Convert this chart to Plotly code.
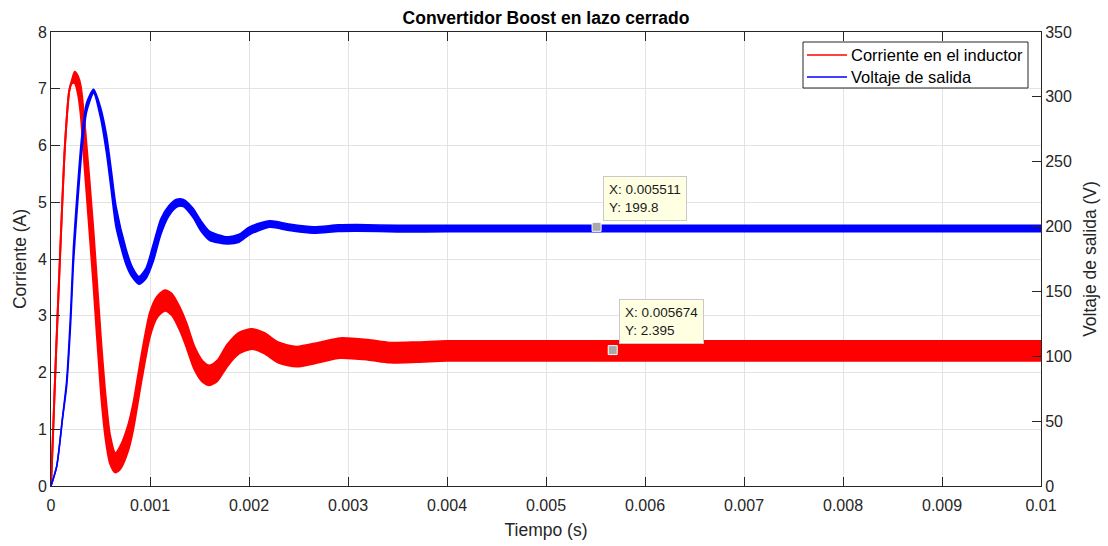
import plotly.graph_objects as go

# ---------------- data ----------------
# Inductor current (A): time, centre of the ripple band, band height
t_i = [0, 0.00002, 0.00005, 0.000091, 0.000141, 0.000185, 0.00021, 0.00024,
       0.00027, 0.0003, 0.00034, 0.000428, 0.000505, 0.000552, 0.000596, 0.00065,
       0.0007, 0.00078, 0.00083, 0.000916, 0.001, 0.00107, 0.00115, 0.00122,
       0.0013, 0.00137, 0.00145, 0.00153, 0.0016, 0.00168, 0.00178, 0.0019,
       0.00203, 0.00215, 0.0023, 0.00248, 0.0027, 0.00292, 0.0032, 0.00342,
       0.0037, 0.004, 0.0045, 0.005, 0.006, 0.007, 0.008, 0.009, 0.01]
i_center = [0, 0.9, 2.3, 4.04, 6.0, 6.97, 7.12, 7.2,
            7.08, 6.8, 6.0, 4.04, 2.1, 1.2, 0.65, 0.41,
            0.5, 0.85, 1.22, 2.1, 2.85, 3.15, 3.27, 3.2,
            2.95, 2.65, 2.25, 2.02, 1.95, 2.03, 2.3, 2.52,
            2.59, 2.52, 2.35, 2.28, 2.35, 2.43, 2.4, 2.35,
            2.36, 2.38, 2.38, 2.38, 2.38, 2.38, 2.38, 2.38, 2.38]
i_ripple = [0, 0, 0, 0, 0, 0, 0.05, 0.2,
            0.3, 0.5, 0.8, 0.95, 0.95, 0.75, 0.5, 0.34,
            0.4, 0.45, 0.45, 0.45, 0.42, 0.37, 0.36, 0.38,
            0.4, 0.42, 0.4, 0.37, 0.35, 0.36, 0.38, 0.37,
            0.35, 0.36, 0.36, 0.35, 0.35, 0.35, 0.35, 0.35,
            0.35, 0.35, 0.35, 0.35, 0.35, 0.35, 0.35, 0.35, 0.35]

# Output voltage (V): time, centre of the ripple band, band height
t_v = [0, 0.000057, 0.000118, 0.000158, 0.000199, 0.000226, 0.00026, 0.00031,
       0.00036, 0.00043, 0.0005, 0.000562, 0.00061, 0.000657, 0.000758, 0.00082,
       0.00089, 0.00096, 0.001034, 0.00111, 0.00119, 0.00127, 0.001337, 0.00143,
       0.00152, 0.0016, 0.00178, 0.0019, 0.002, 0.00221, 0.0024, 0.00265, 0.0029,
       0.00309, 0.0035, 0.004, 0.005, 0.006, 0.007, 0.008, 0.009, 0.01]
v_center = [0, 14.9, 53.4, 79, 130.5, 176.8, 215, 262.9,
            292, 304.3, 288, 262.9, 235, 207.6, 176.8, 165,
            158.5, 164, 180, 200, 212, 218, 218.2, 211,
            200, 193, 189.4, 191, 196.5, 202, 199.5, 197.3, 198.8,
            199.0, 198.4, 198.5, 198.5, 198.5, 198.5, 198.5, 198.5, 198.5]
v_ripple = [0, 0, 1, 4, 9, 12, 13, 12,
            7, 3, 8, 14, 16, 16, 12, 8,
            6, 8, 13, 12, 8, 6, 5.5, 7,
            8, 7, 5.5, 6, 6, 5, 5, 5, 5,
            5, 5, 5, 5, 5, 5, 5, 5, 5]

# Data tips
tip_v_x, tip_v_y = 0.005511, 199.8
tip_i_x, tip_i_y = 0.005674, 2.395

x_ticks = [0, 0.001, 0.002, 0.003, 0.004, 0.005, 0.006, 0.007, 0.008, 0.009, 0.01]
x_tick_text = ["0", "0.001", "0.002", "0.003", "0.004", "0.005", "0.006",
               "0.007", "0.008", "0.009", "0.01"]

title_text = "Convertidor Boost en lazo cerrado"
names = ["Corriente en el inductor", "Voltaje de salida"]

# ---------------- figure ----------------
FONT = "Arial, Liberation Sans, Helvetica, sans-serif"
AX = "#262626"
RED = "#ff0000"
BLUE = "#0000ff"

# plot area in pixels (for placing the legend box)
PL, PR, PT, PB = 51, 1041, 32, 486
PW, PH = PR - PL, PB - PT


def px(xp):
    return (xp - PL) / PW


def py(yp):
    return (PB - yp) / PH


fig = go.Figure()


def add_band(t, c, w, color, lw, yax):
    up = [ci + wi / 2 for ci, wi in zip(c, w)]
    lo = [ci - wi / 2 for ci, wi in zip(c, w)]
    line = dict(color=color, width=lw, shape="spline", smoothing=0.7)
    fig.add_trace(go.Scatter(x=t, y=lo, mode="lines", line=line, yaxis=yax,
                             showlegend=False, hoverinfo="skip"))
    fig.add_trace(go.Scatter(x=t, y=up, mode="lines", line=line, yaxis=yax,
                             fill="tonexty", fillcolor=color,
                             showlegend=False, hoverinfo="skip"))


add_band(t_i, i_center, i_ripple, RED, 2, "y")
add_band(t_v, v_center, v_ripple, BLUE, 1.6, "y2")

# data-tip markers
for tx, ty, yax in [(tip_v_x, tip_v_y, "y2"), (tip_i_x, tip_i_y, "y")]:
    fig.add_trace(go.Scatter(x=[tx], y=[ty], mode="markers", yaxis=yax,
                             marker=dict(symbol="square", size=9, color="#a9a9a9",
                                         line=dict(color="white", width=1)),
                             showlegend=False, hoverinfo="skip"))

tip_style = dict(showarrow=False, xanchor="left", yanchor="bottom", align="left",
                 bgcolor="#ffffe1", bordercolor="#c8c8c8", borderwidth=1, borderpad=5,
                 font=dict(family=FONT, size=13.5, color="#1a1a1a"))
fig.add_annotation(x=tip_v_x, y=tip_v_y, xref="x", yref="y2",
                   text=f"X: {tip_v_x}<br>Y: {tip_v_y}", xshift=6, yshift=6, **tip_style)
fig.add_annotation(x=tip_i_x, y=tip_i_y, xref="x", yref="y",
                   text=f"X: {tip_i_x}<br>Y: {tip_i_y}", xshift=6, yshift=6, **tip_style)

# legend (drawn as a box with line samples and text)
fig.add_shape(type="rect", xref="paper", yref="paper",
              x0=px(803), x1=px(1028), y0=py(88), y1=py(42),
              line=dict(color=AX, width=1), fillcolor="white", layer="above")
for k, (nm, col) in enumerate(zip(names, [RED, BLUE])):
    yy = 55 + 22 * k
    fig.add_shape(type="line", xref="paper", yref="paper",
                  x0=px(807), x1=px(847), y0=py(yy), y1=py(yy),
                  line=dict(color=col, width=1.5), layer="above")
    fig.add_annotation(x=px(849), y=py(yy), xref="paper", yref="paper", text=nm,
                       showarrow=False, xanchor="left", yanchor="middle",
                       font=dict(family=FONT, size=16.5, color="#000000"))

fig.update_layout(
    width=1108, height=546,
    margin=dict(l=PL, r=1108 - PR, t=PT, b=546 - PB, autoexpand=False),
    paper_bgcolor="white", plot_bgcolor="white",
    font=dict(family=FONT, size=16, color=AX),
    showlegend=False,
    title=dict(text=f"<b>{title_text}</b>", x=(PL + PR) / 2 / 1108, xanchor="center",
               y=1 - 18 / 546, yanchor="middle",
               font=dict(family=FONT, size=17.5, color="#000000")),
    xaxis=dict(range=[0, 0.01], tickvals=x_ticks, ticktext=x_tick_text,
               showgrid=True, gridcolor="#e3e3e3", gridwidth=1,
               ticks="inside", ticklen=9, tickcolor=AX, ticklabelstandoff=5,
               showline=True, linecolor=AX, linewidth=1, mirror="ticks",
               zeroline=False, tickfont=dict(size=16, color=AX), automargin=False,
               title=dict(text="Tiempo (s)", font=dict(size=17.5, color=AX), standoff=10)),
    yaxis=dict(range=[0, 8], dtick=1, showgrid=True, gridcolor="#e3e3e3", gridwidth=1,
               ticks="inside", ticklen=9, tickcolor=AX, automargin=False,
               showline=True, linecolor=AX, linewidth=1, zeroline=False,
               tickfont=dict(size=16, color=AX),
               title=dict(text="Corriente (A)", font=dict(size=17.5, color=AX), standoff=6)),
    yaxis2=dict(range=[0, 350], dtick=50, overlaying="y", side="right", showgrid=False,
                ticks="inside", ticklen=9, tickcolor=AX, automargin=False,
                showline=True, linecolor=AX, linewidth=1, zeroline=False,
                tickfont=dict(size=16, color=AX),
                title=dict(text="Voltaje de salida (V)", font=dict(size=17.5, color=AX),
                           standoff=12)),
)

fig.write_html("out.html")
